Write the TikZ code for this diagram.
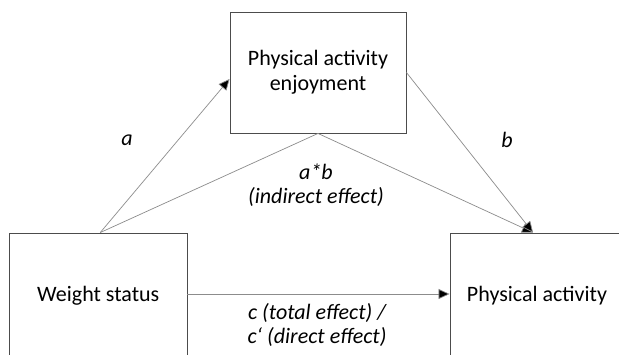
\documentclass[tikz,border=0pt]{standalone}
\usepackage{fontspec}
\setmainfont{Carlito}
\usetikzlibrary{arrows.meta,calc}
\begin{document}
\begin{tikzpicture}[x=1pt,y=1pt,
  box/.style={draw=black!70,line width=0.9pt,align=center,inner sep=0pt,font=\fontsize{22}{25}\selectfont},
  link/.style={draw=black!45,line width=0.7pt},
  arr/.style={link,-{Triangle[length=11pt,width=10pt,fill=black]}},
  lab/.style={font=\fontsize{22}{24}\selectfont\itshape,align=center}]
\clip (0,0) rectangle (619,-355);
\fill[white] (0,0) rectangle (619,-355);
\node[box,minimum width=176pt,minimum height=121pt] (pae) at (318,-72.5) {Physical activity\\enjoyment};
\node[box,minimum width=177.5pt,minimum height=126pt] (ws) at (98.25,-296) {Weight status};
\node[box,minimum width=174pt,minimum height=126pt] (pa) at (537,-296) {Physical activity};
\coordinate (tip) at ([xshift=-4pt]pa.north);
\coordinate (aend) at ([yshift=-6.5pt]pae.west);
\coordinate (src) at ([xshift=2pt]ws.north);
\draw[arr] (src) -- (aend);
\draw[link] (src) -- (pae.south);
\draw[arr] (pae.south) -- (tip);
\draw[arr] (pae.east) -- (tip);
\draw[arr] ([yshift=2pt]ws.east) -- ([yshift=2pt]pa.west);
\node[lab] (la) at (127,-140) {a};
\node[lab] (lb) at (507,-140) {b};
\node[lab] (lab1) at (316,-185) {a*b\\(indirect effect)};
\node[lab] (lc) at (317,-325) {c (total effect) /\\c‘ (direct effect)};
\end{tikzpicture}
\end{document}
